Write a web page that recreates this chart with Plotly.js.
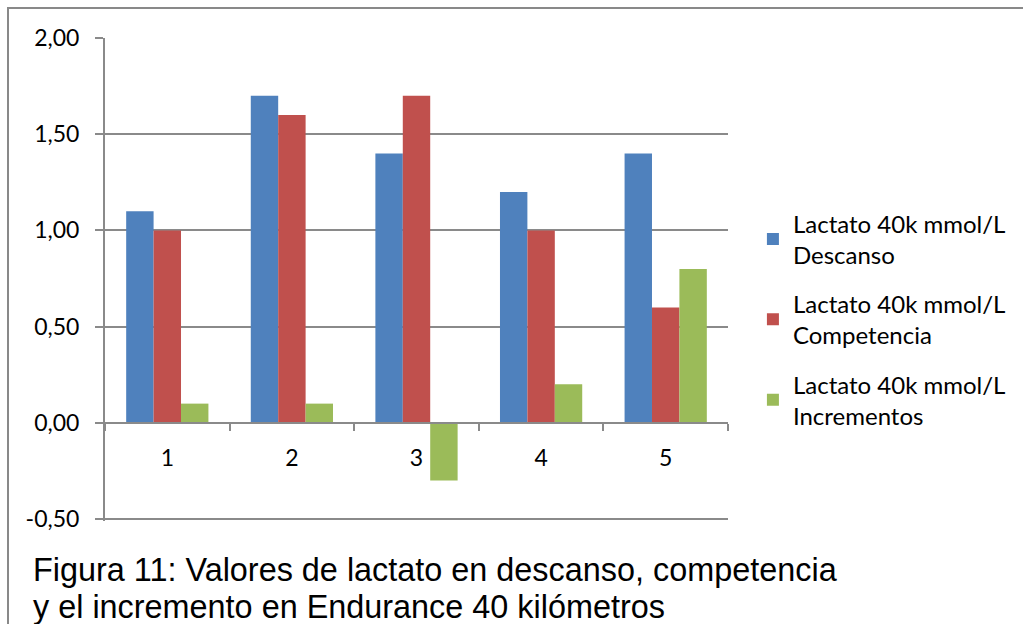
<!DOCTYPE html>
<html>
<head>
<meta charset="utf-8">
<script src="https://cdn.plot.ly/plotly-3.0.1.min.js"></script>
<style>
  html, body { margin: 0; padding: 0; background: #fff; }
  #wrap { position: absolute; left: 0; top: 0; width: 1023px; height: 624px; overflow: hidden; background: #fff; }
  #frame { position: absolute; left: 7px; top: 7px; width: 1100px; height: 700px; border: 2px solid #898989; }
  #chart { position: absolute; left: 0; top: 0; width: 1023px; height: 624px; }
</style>
</head>
<body>
<div id="wrap">
  <div id="frame"></div>
  <div id="chart"></div>
</div>
<script>
const categories = ['1', '2', '3', '4', '5'];
const descanso = [1.1, 1.7, 1.4, 1.2, 1.4];
const competencia = [1.0, 1.6, 1.7, 1.0, 0.6];
const incrementos = [0.1, 0.1, -0.3, 0.2, 0.8];
const seriesNames = ['Lactato 40k mmol/L<br>Descanso', 'Lactato 40k mmol/L<br>Competencia', 'Lactato 40k mmol/L<br>Incrementos'];
const yTickVals = [-0.5, 0, 0.5, 1, 1.5, 2];
const yTickText = ['-0,50', '0,00', '0,50', '1,00', '1,50', '2,00'];
const captionLines = ['Figura 11: Valores de lactato en descanso, competencia', 'y el incremento en Endurance 40 kilómetros'];

const colors = ['#4f81bd', '#c0504d', '#9bbb59'];
const seriesValues = [descanso, competencia, incrementos];
const traces = seriesValues.map((vals, i) => ({
  type: 'bar',
  x: categories,
  y: vals,
  name: seriesNames[i],
  legendgroup: 'g' + i,
  marker: { color: colors[i], line: { width: 0 } },
  hoverinfo: 'skip'
}));

const gridColor = '#8a8a8a';
const tickFont = { size: 23, family: 'Lato, "Open Sans", sans-serif', color: '#000' };
const yMin = -0.51, yMax = 2.0;
const captionY = [-0.102, -0.179];
const layout = {
  width: 1023, height: 624,
  paper_bgcolor: 'rgba(0,0,0,0)',
  plot_bgcolor: 'rgba(0,0,0,0)',
  margin: { l: 105, r: 293, t: 38, b: 103, pad: 0 },
  barmode: 'group',
  bargap: 0.34,
  bargroupgap: 0,
  separators: ',.',
  font: { family: 'Lato, "Open Sans", sans-serif', size: 23, color: '#000' },
  xaxis: {
    type: 'category',
    anchor: 'free',
    position: (0 - yMin) / (yMax - yMin),
    showline: true, linecolor: gridColor, linewidth: 2,
    ticks: 'outside', ticklen: 7, tickcolor: gridColor, tickwidth: 2,
    tickson: 'boundaries',
    ticklabelstandoff: 15,
    showgrid: false, zeroline: false,
    tickfont: tickFont
  },
  yaxis: {
    range: [yMin, yMax],
    tickvals: yTickVals, ticktext: yTickText,
    showline: true, linecolor: gridColor, linewidth: 2,
    ticks: 'outside', ticklen: 8, tickcolor: gridColor, tickwidth: 2,
    ticklabelstandoff: 11,
    showgrid: true, gridcolor: gridColor, gridwidth: 2,
    zeroline: false,
    tickfont: tickFont
  },
  legend: {
    x: 1.04, xanchor: 'left', y: 0.662, yanchor: 'top',
    font: { size: 24, family: 'Lato, "Open Sans", sans-serif', color: '#000' },
    tracegroupgap: 15, itemwidth: 30,
    bgcolor: 'rgba(0,0,0,0)'
  },
  showlegend: true,
  annotations: captionLines.map((t, i) => ({
    text: t,
    xref: 'paper', yref: 'paper',
    x: -0.118, y: captionY[i], xanchor: 'left', yanchor: 'middle',
    align: 'left', showarrow: false,
    font: { family: '"Liberation Sans", Arial, sans-serif', size: 32.4, color: '#000' }
  }))
};

Plotly.newPlot('chart', traces, layout, { displayModeBar: false, staticPlot: true });
</script>
</body>
</html>
